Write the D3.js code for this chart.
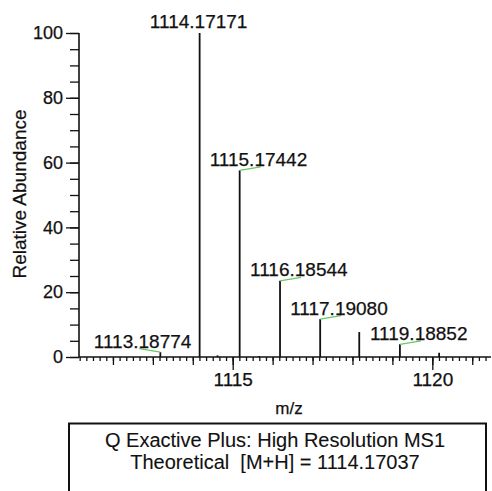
<!DOCTYPE html>
<html>
<head>
<meta charset="utf-8">
<script src="https://cdn.jsdelivr.net/npm/d3@7"></script>
<style>
  body { margin: 0; background: #fff; }
  text { font-family: "Liberation Sans", Arial, sans-serif; fill: #111; stroke: #111; stroke-width: 0.25px; }
</style>
</head>
<body>
<svg id="svg" width="492" height="491"></svg>
<script>
// peaks (m/z, relative abundance)
var peakMz = [1113.18774, 1114.17171, 1114.62, 1115.17442, 1115.66, 1116.18544, 1117.19080, 1118.17, 1119.18852, 1120.17];
var peakAbund = [1.5, 100, 0.5, 57.6, 0.3, 23.5, 11.7, 7.7, 3.9, 1.3];
// peaks that carry a label
var labelMz = ["1113.18774", "1114.17171", "1115.17442", "1116.18544", "1117.19080", "1119.18852"];
var yTicks = [0, 20, 40, 60, 80, 100];
var xTickLabels = [1115, 1120];
var infoLines = ["Q Exactive Plus: High Resolution MS1", "Theoretical  [M+H] = 1114.17037"];

var svg = d3.select("#svg");

var x = d3.scaleLinear().domain([1111.15, 1121.47]).range([79, 491]);
var y = d3.scaleLinear().domain([0, 100]).range([357, 33]);

// y axis: minor ticks every 5, major every 20
svg.append("g").attr("transform", "translate(79,0)")
    .call(d3.axisLeft(y).tickValues(d3.range(0, 101, 5)).tickSize(9).tickFormat(""))
    .call(function(g){ g.select(".domain").remove(); });
svg.append("g").attr("transform", "translate(79,0)")
    .call(d3.axisLeft(y).tickValues(yTicks).tickSize(13).tickPadding(3))
    .call(function(g){ g.select(".domain").remove(); })
    .selectAll("text").attr("font-size", "18px").attr("font-family", null).attr("fill", "#111");

// x axis: minor ticks every 1/6, medium every 1, labelled at 1115 and 1120
var minorX = d3.range(6 * 1111 + 1, 6 * 1121 + 3).map(function(k){ return k / 6; })
    .filter(function(v){ return v >= x.domain()[0] && v <= x.domain()[1]; });
svg.append("g").attr("transform", "translate(0,357)")
    .call(d3.axisBottom(x).tickValues(minorX).tickSize(4).tickFormat(""))
    .call(function(g){ g.select(".domain").remove(); });
svg.append("g").attr("transform", "translate(0,357)")
    .call(d3.axisBottom(x).tickValues(d3.range(1112, 1122)).tickSize(8).tickFormat(""))
    .call(function(g){ g.select(".domain").remove(); });
svg.append("g").attr("transform", "translate(0,357)")
    .call(d3.axisBottom(x).tickValues(xTickLabels).tickSize(13).tickPadding(3).tickFormat(d3.format("d")))
    .call(function(g){ g.select(".domain").remove(); })
    .selectAll("text").attr("font-size", "19px").attr("font-family", null).attr("fill", "#111");

svg.selectAll(".tick line").attr("stroke", "#111").attr("stroke-width", 1.3);

// axis lines
svg.append("line").attr("x1", 79).attr("x2", 79).attr("y1", y(100)).attr("y2", y(0))
    .attr("stroke", "#111").attr("stroke-width", 1.6);
svg.append("line").attr("x1", 79).attr("x2", 491).attr("y1", y(0)).attr("y2", y(0))
    .attr("stroke", "#111").attr("stroke-width", 1.6);

// peaks as sticks
var peaks = peakMz.map(function(m, i){ return {mz: m, ab: peakAbund[i]}; });
svg.append("g").selectAll("line")
    .data(peaks)
    .enter().append("line")
    .attr("x1", function(d){ return x(d.mz); })
    .attr("x2", function(d){ return x(d.mz); })
    .attr("y1", y(0))
    .attr("y2", function(d){ return y(d.ab); })
    .attr("stroke", "#111")
    .attr("stroke-width", 1.8);

// labels with green connectors
var labelled = labelMz.map(function(s){
    var m = +s;
    var i = peakMz.indexOf(m);
    return {txt: s, mz: m, ab: peakAbund[i]};
});
var basePeak = peaks.filter(function(p){ return p.ab === 100; })[0].mz;

labelled.forEach(function(d){
    var px = x(d.mz), py = y(d.ab);
    if (d.mz === basePeak) {
        svg.append("text").attr("x", px - 1).attr("y", py - 5)
            .attr("text-anchor", "middle").attr("font-size", "19px").text(d.txt);
        return;
    }
    var left = d.mz < basePeak;
    svg.append("line")
        .attr("x1", px).attr("y1", py)
        .attr("x2", left ? px - 21 : px + 21).attr("y2", py - 3.5)
        .attr("stroke", "#66c866").attr("stroke-width", 1.3);
    svg.append("text")
        .attr("x", left ? px + 31 : px - 30)
        .attr("y", py - 4.5)
        .attr("text-anchor", left ? "end" : "start")
        .attr("font-size", "19px")
        .text(d.txt);
});

// axis titles
svg.append("text").attr("transform", "translate(26,194) rotate(-90)")
    .attr("text-anchor", "middle").attr("font-size", "19px").text("Relative Abundance");
svg.append("text").attr("x", 289).attr("y", 414)
    .attr("text-anchor", "middle").attr("font-size", "17px").text("m/z");

// info box
svg.append("rect").attr("x", 69).attr("y", 423.5).attr("width", 417).attr("height", 90)
    .attr("fill", "none").attr("stroke", "#111").attr("stroke-width", 2);
svg.append("g").selectAll("text")
    .data(infoLines)
    .enter().append("text")
    .attr("x", 275)
    .attr("y", function(d, i){ return 447 + 22 * i; })
    .attr("text-anchor", "middle")
    .attr("font-size", "20px")
    .style("stroke-width", "0.1px")
    .style("white-space", "pre")
    .text(function(d){ return d; });
</script>
</body>
</html>
